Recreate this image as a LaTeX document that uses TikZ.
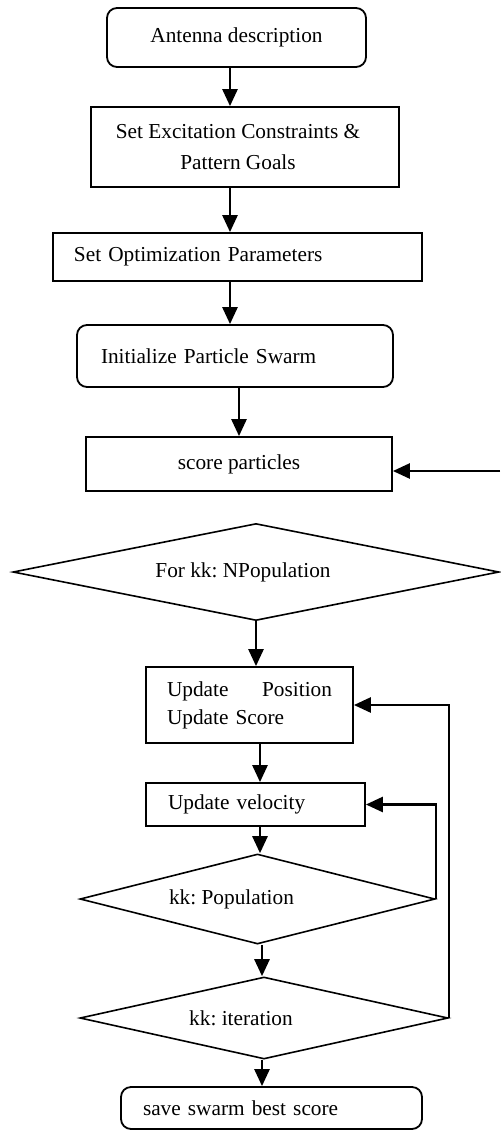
\documentclass[tikz,border=0pt]{standalone}
\usepackage{fontspec}
\setmainfont{Liberation Serif}
\usetikzlibrary{shapes.geometric,arrows.meta}
\begin{document}
\frenchspacing
\begin{tikzpicture}[x=0.5pt,y=-0.5pt,
  every node/.style={font=\fontsize{10.65pt}{14pt}\selectfont},
  box/.style={draw, line width=0.9pt, inner sep=1pt},
  rbox/.style={box, rounded corners=5pt},
  dec/.style={draw, diamond, line width=0.8pt, inner sep=0pt},
  arr/.style={line width=1.3pt, -{Triangle[length=8.5pt,width=7.5pt]}}]
\useasboundingbox (0,0) rectangle (500,1132);

% process steps
\node[rbox, minimum width=129.5pt, minimum height=29.5pt] (b1) at (236.5,37.5) {Antenna description};
\node[box, minimum width=154pt, minimum height=40pt, align=center,
      font=\fontsize{10.65pt}{15.5pt}\selectfont] (b2) at (245,147)
      {\hspace*{-7pt}Set Excitation Constraints \&\\\hspace*{-7pt}Pattern Goals};
\node[box, minimum width=184.5pt, minimum height=24pt, text width=163.5pt, align=left] (b3) at (237.5,257) {Set Optimization Parameters};
\node[rbox, minimum width=158pt, minimum height=31pt, text width=134pt, align=left] (b4) at (235,356) {Initialize Particle Swarm};
\node[box, minimum width=153pt, minimum height=27pt] (b5) at (239,464) {score particles};
\node[dec, aspect=5.01, minimum width=243pt, minimum height=48.5pt] (d1) at (256,572) {\hspace*{-13pt}For kk: NPopulation};
\node[box, minimum width=103.5pt, minimum height=38pt, text width=82.5pt, align=left] (b6) at (249.5,705) {Update\hfill Position\\Update Score};
\node[box, minimum width=109.5pt, minimum height=21.5pt, text width=87.5pt, align=left] (b7) at (255.5,804.5) {Update velocity};
\node[dec, aspect=3.94, minimum width=177.5pt, minimum height=45pt] (d2) at (257.5,899) {\hspace*{-26pt}kk: Population};
\node[dec, aspect=4.49, minimum width=184pt, minimum height=41pt] (d3) at (264,1018) {\hspace*{-23pt}kk: iteration};
\node[rbox, minimum width=150.5pt, minimum height=21pt, text width=128.5pt, align=left] (b8) at (271.5,1108) {save swarm best score};

% columns of the vertical connectors
\coordinate (colA) at (230,0);
\coordinate (colB) at (239,0);
\coordinate (colC) at (260,0);
\coordinate (colD) at (262,0);
\coordinate (ret) at (500,471);

% main flow
\draw[arr] (b1.south -| colA) -- (b2.north -| colA);
\draw[arr] (b2.south -| colA) -- (b3.north -| colA);
\draw[arr] (b3.south -| colA) -- (b4.north -| colA);
\draw[arr] (b4.south -| colB) -- (b5.north -| colB);
\draw[arr] (d1.south) -- (b6.north -| d1.south);
\draw[arr] (b6.south -| colC) -- (b7.north -| colC);
\draw[arr] (b7.south -| colC) -- (d2.north -| colC);
\draw[arr] (d2.south -| colD) -- (d3.north -| colD);
\draw[arr] (d3.south -| colD) -- (b8.north -| colD);

% loops
\draw[arr] (d3.east) -- (d3.east |- b6.east) -- (b6.east);
\draw[arr] (d2.east) -- (d2.east |- b7.east) -- (b7.east);
\draw[arr] (ret) -- (ret -| b5.east);
\end{tikzpicture}
\end{document}
